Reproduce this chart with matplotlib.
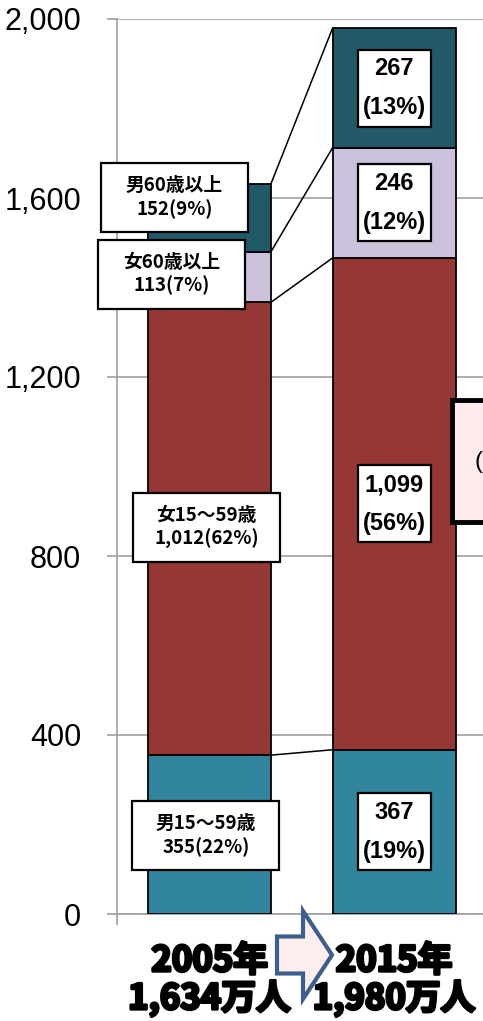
import matplotlib.pyplot as plt
import matplotlib.patheffects as pe
from matplotlib.patches import Rectangle, FancyArrow

years = ['2005', '2015']
totals = [1634, 1980]
segments = ['男15～59歳', '女15～59歳', '女60歳以上', '男60歳以上']
values_2005 = [355, 1012, 113, 152]
values_2015 = [367, 1099, 246, 267]
pct_2005 = [22, 62, 7, 9]
pct_2015 = [19, 56, 12, 13]
colors = ['#31859C', '#953735', '#CCC1DA', '#215968']
yticks = [0, 400, 800, 1200, 1600, 2000]

# where the 2005 callout boxes sit (x, y in data units)
left_label_pos = [(-0.02, 176), (-0.016, 864), (-0.206, 1430), (-0.19, 1601)]

cjk = ['Noto Sans CJK JP', 'DejaVu Sans']
num = ['Liberation Sans', 'DejaVu Sans']

W, H = 483, 1021
fig = plt.figure(figsize=(W / 100, H / 100), dpi=100)
px_unit = 184.5
ax = fig.add_axes([117.25 / W, 107 / H, 2.1 * px_unit / W, 895 / H])

bw = 123 / px_unit
x = [0, 1]
bottoms = [0, 0]
tops_2005, tops_2015 = [], []
for i in range(len(segments)):
    vals = [values_2005[i], values_2015[i]]
    ax.bar(x, vals, bw, bottom=bottoms, color=colors[i], edgecolor='black',
           linewidth=1.3, zorder=3)
    bottoms = [b + v for b, v in zip(bottoms, vals)]
    tops_2005.append(bottoms[0])
    tops_2015.append(bottoms[1])

# connector lines between the bars
for t1, t2 in zip(tops_2005, tops_2015):
    ax.plot([bw / 2, 1 - bw / 2], [t1, t2], color='black', lw=1.1, zorder=2)

# 2005 callouts
lbw, lbh = 147 / px_unit, 69 / 0.4475
for i, (lx, ly) in enumerate(left_label_pos):
    ax.add_patch(Rectangle((lx - lbw / 2, ly - lbh / 2), lbw, lbh, fc='white',
                           ec='black', lw=1.6, zorder=5, clip_on=False))
    ax.text(lx, ly, f'{segments[i]}\n{values_2005[i]:,}({pct_2005[i]}%)',
            ha='center', va='center', fontsize=13.5, fontweight='bold',
            family=cjk, linespacing=1.25, zorder=6, clip_on=False)

# 2015 callouts at segment centres
rbw, rbh = 73 / px_unit, 77 / 0.4475
base = 0
for i, v in enumerate(values_2015):
    cy = base + v / 2
    base += v
    ax.add_patch(Rectangle((1 - rbw / 2, cy - rbh / 2), rbw, rbh, fc='white',
                           ec='black', lw=1.6, zorder=5))
    ax.text(1, cy, f'{v:,}\n({pct_2015[i]}%)', ha='center', va='center',
            fontsize=17, fontweight='bold', family=num, linespacing=1.85,
            zorder=6)

ax.set_xlim(-0.5, 1.6)
ax.set_ylim(0, 2000)
ax.set_yticks(yticks)
ax.set_yticklabels([f'{v:,}' for v in yticks], fontsize=22, family=num)
ax.tick_params(axis='y', length=7, color='#A0A0A0', width=1.2, pad=19)
ax.grid(axis='y', color='#A0A0A0', lw=1.2, zorder=0)

ax.set_xticks(x)
ax.set_xticklabels([f'{y}年\n{t:,}万人' for y, t in zip(years, totals)],
                   fontsize=25, fontweight='bold', family=cjk, linespacing=1.08)
for lab in ax.get_xticklabels():
    lab.set_path_effects([pe.withStroke(linewidth=2.2, foreground='black')])
ax.tick_params(axis='x', length=0, pad=21)
ax.set_xticks([-0.5, 0.5, 1.5], minor=True)
ax.tick_params(axis='x', which='minor', length=8, color='#A0A0A0', width=1.2)

for s in ['top', 'right']:
    ax.spines[s].set_visible(False)
for s in ['left', 'bottom']:
    ax.spines[s].set_color('#A0A0A0')
    ax.spines[s].set_linewidth(1.2)

# overlay in pixel coordinates for the arrow and the cut-off note box
ov = fig.add_axes([0, 0, 1, 1], zorder=10)
ov.set_xlim(0, W)
ov.set_ylim(H, 0)
ov.axis('off')
ov.add_patch(FancyArrow(277, 955, 26, 0, width=37, head_width=88,
                        head_length=29, length_includes_head=False,
                        fc='#FDEDED', ec='#3C5F8D', lw=3, joinstyle='miter'))
ov.add_patch(Rectangle((452, 400), 60, 122, fc='#FDEAEA', ec='black', lw=3.5))
ov.text(474, 462, '(', fontsize=17, family=num, va='center', ha='left')

fig.savefig('out.png', dpi=100)
